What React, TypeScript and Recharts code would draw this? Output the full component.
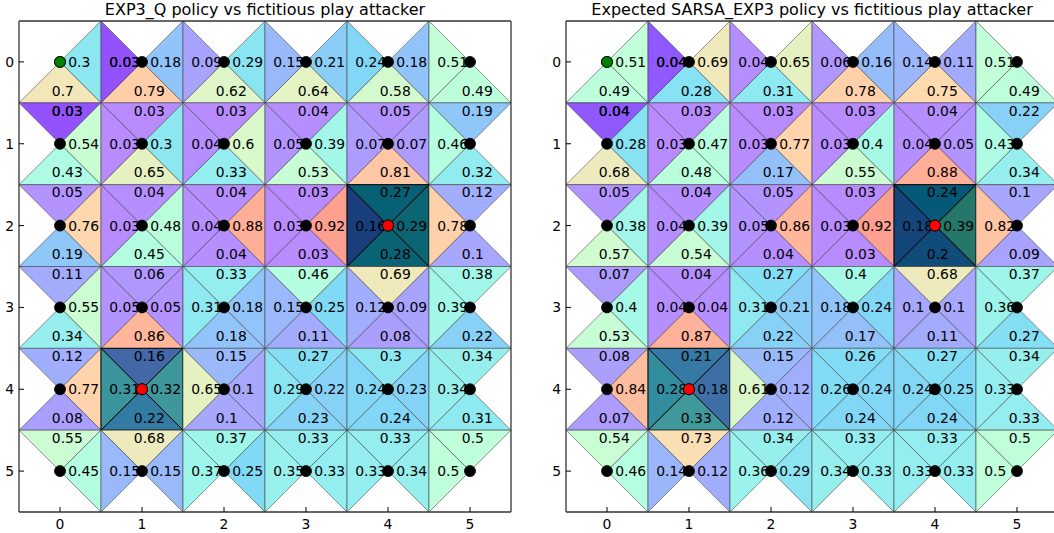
import React from 'react';
import { ScatterChart, Scatter, XAxis, YAxis, ReferenceArea } from 'recharts';

const TICKS = [0, 1, 2, 3, 4, 5];
const COLS = [0, 1, 2, 3, 4, 5];
const ROWS = [0, 1, 2, 3, 4, 5];

const TITLES = [
  'EXP3_Q policy vs fictitious play attacker',
  'Expected SARSA_EXP3 policy vs fictitious play attacker',
];

// action probabilities, row = y (0 at top), col = x ; null where the move leaves the grid
const EXP3_UP = [
  [null, null, null, null, null, null],
  [0.03, 0.03, 0.03, 0.04, 0.05, 0.19],
  [0.05, 0.04, 0.04, 0.03, 0.27, 0.12],
  [0.11, 0.06, 0.33, 0.46, 0.69, 0.38],
  [0.12, 0.16, 0.15, 0.27, 0.3, 0.34],
  [0.55, 0.68, 0.37, 0.33, 0.33, 0.5],
];
const EXP3_RIGHT = [
  [0.3, 0.18, 0.29, 0.21, 0.18, null],
  [0.54, 0.3, 0.6, 0.39, 0.07, null],
  [0.76, 0.48, 0.88, 0.92, 0.29, null],
  [0.55, 0.05, 0.18, 0.25, 0.09, null],
  [0.77, 0.32, 0.1, 0.22, 0.23, null],
  [0.45, 0.15, 0.25, 0.33, 0.34, null],
];
const EXP3_DOWN = [
  [0.7, 0.79, 0.62, 0.64, 0.58, 0.49],
  [0.43, 0.65, 0.33, 0.53, 0.81, 0.32],
  [0.19, 0.45, 0.04, 0.03, 0.28, 0.1],
  [0.34, 0.86, 0.18, 0.11, 0.08, 0.22],
  [0.08, 0.22, 0.1, 0.23, 0.24, 0.31],
  [null, null, null, null, null, null],
];
const EXP3_LEFT = [
  [null, 0.03, 0.09, 0.15, 0.24, 0.51],
  [null, 0.03, 0.04, 0.05, 0.07, 0.46],
  [null, 0.03, 0.04, 0.03, 0.16, 0.78],
  [null, 0.05, 0.31, 0.15, 0.12, 0.39],
  [null, 0.31, 0.65, 0.29, 0.24, 0.34],
  [null, 0.15, 0.37, 0.35, 0.33, 0.5],
];

const SARSA_UP = [
  [null, null, null, null, null, null],
  [0.04, 0.03, 0.03, 0.03, 0.04, 0.22],
  [0.05, 0.04, 0.05, 0.03, 0.24, 0.1],
  [0.07, 0.04, 0.27, 0.4, 0.68, 0.37],
  [0.08, 0.21, 0.15, 0.26, 0.27, 0.34],
  [0.54, 0.73, 0.34, 0.33, 0.33, 0.5],
];
const SARSA_RIGHT = [
  [0.51, 0.69, 0.65, 0.16, 0.11, null],
  [0.28, 0.47, 0.77, 0.4, 0.05, null],
  [0.38, 0.39, 0.86, 0.92, 0.39, null],
  [0.4, 0.04, 0.21, 0.24, 0.1, null],
  [0.84, 0.18, 0.12, 0.24, 0.25, null],
  [0.46, 0.12, 0.29, 0.33, 0.33, null],
];
const SARSA_DOWN = [
  [0.49, 0.28, 0.31, 0.78, 0.75, 0.49],
  [0.68, 0.48, 0.17, 0.55, 0.88, 0.34],
  [0.57, 0.54, 0.04, 0.03, 0.2, 0.09],
  [0.53, 0.87, 0.22, 0.17, 0.11, 0.27],
  [0.07, 0.33, 0.12, 0.24, 0.24, 0.33],
  [null, null, null, null, null, null],
];
const SARSA_LEFT = [
  [null, 0.04, 0.04, 0.06, 0.14, 0.51],
  [null, 0.03, 0.03, 0.03, 0.04, 0.43],
  [null, 0.04, 0.05, 0.03, 0.18, 0.82],
  [null, 0.04, 0.31, 0.18, 0.1, 0.36],
  [null, 0.28, 0.61, 0.26, 0.24, 0.33],
  [null, 0.14, 0.36, 0.34, 0.33, 0.5],
];

const START = [{ x: 0, y: 0 }];
const GOALS = [{ x: 4, y: 2 }, { x: 1, y: 4 }];
// triangles that were drawn twice in the original figure
const DOUBLED = [{ x: 1, y: 0, dir: 'left' }, { x: 0, y: 1, dir: 'up' }];

// how strongly the goal cells are overdrawn / darkened
const GOAL_STYLE = [{ layers: 6, shade: 0.5 }, { layers: 2, shade: 0.33 }];

const FONT = '"DejaVu Sans", sans-serif';

const rainbow = (v: number) => [
  Math.min(1, Math.abs(2 * v - 0.5)),
  Math.sin(Math.PI * v),
  Math.cos((Math.PI * v) / 2),
];

const colorFor = (v: number, layers: number, shade: number) => {
  const a = 1 - Math.pow(0.5, layers);
  const c = rainbow(v).map((f) => Math.round(255 * ((1 - a) + a * f) * (1 - shade)));
  return `rgb(${c[0]},${c[1]},${c[2]})`;
};

const CellPatch = (props: any) => {
  const { x, y, width, height, vals, goalIdx, doubled } = props;
  const w = width;
  const h = height;
  const cx = x + w / 2;
  const cy = y + h / 2;
  const st = goalIdx >= 0 ? GOAL_STYLE[goalIdx] : { layers: 1, shade: 0 };
  const edge = goalIdx >= 0 ? '#000' : 'rgba(60,60,60,0.55)';
  const tris: any[] = [
    { dir: 'up', v: vals.up, pts: [[x, y], [x + w, y], [cx, cy]], tx: cx - 0.1 * w, ty: cy - 0.405 * h },
    { dir: 'right', v: vals.right, pts: [[x + w, y], [x + w, y + h], [cx, cy]], tx: cx + 0.1 * w, ty: cy },
    { dir: 'down', v: vals.down, pts: [[x, y + h], [x + w, y + h], [cx, cy]], tx: cx - 0.1 * w, ty: cy + 0.35 * h },
    { dir: 'left', v: vals.left, pts: [[x, y], [x, y + h], [cx, cy]], tx: cx - 0.4 * w, ty: cy },
  ];
  return (
    <g>
      {tris.map((t) =>
        t.v == null ? null : (
          <polygon
            key={t.dir}
            points={t.pts.map((p: number[]) => p.join(',')).join(' ')}
            fill={colorFor(t.v, st.layers + (doubled.includes(t.dir) ? 1 : 0), st.shade)}
            stroke={edge}
            strokeWidth={1}
          />
        )
      )}
      {tris.map((t) =>
        t.v == null ? null : (
          <g key={'t' + t.dir}>
            {(doubled.includes(t.dir) ? [0, 1] : [0]).map((k) => (
              <text
                key={k}
                x={t.tx}
                y={t.ty}
                dominantBaseline="central"
                fontSize={13.9}
                fontFamily={FONT}
                fill="#000"
              >
                {String(t.v)}
              </text>
            ))}
          </g>
        )
      )}
    </g>
  );
};

const Dot = (fill: string) => (p: any) => (
  <circle cx={p.cx} cy={p.cy} r={5.5} fill={fill} stroke="#000" strokeWidth={0.8} />
);

const CENTERS = ROWS.flatMap((y) => COLS.map((x) => ({ x, y })));

interface PanelProps {
  title: string;
  up: (number | null)[][];
  right: (number | null)[][];
  down: (number | null)[][];
  left: (number | null)[][];
  yAxisWidth: number;
  rightWidth: number;
}

const Panel = ({ title, up, right, down, left, yAxisWidth, rightWidth }: PanelProps) => {
  const plotW = 492;
  const width = yAxisWidth + plotW + rightWidth;
  const tickStyle = { fill: '#000', fontSize: 13.9, fontFamily: FONT };
  const axisLine = { stroke: '#333', strokeWidth: 1.3 };
  const tickLine = { stroke: '#000', strokeWidth: 1 };
  return (
    <div style={{ position: 'relative', width, height: 533 }}>
      <div
        style={{
          position: 'absolute',
          left: yAxisWidth,
          width: plotW,
          top: 0,
          textAlign: 'center',
          fontSize: 16,
          lineHeight: '20px',
          fontFamily: FONT,
          color: '#000',
          whiteSpace: 'nowrap',
        }}
      >
        {title}
      </div>
      <ScatterChart width={width} height={533} margin={{ top: 0, right: 0, bottom: 0, left: 0 }}>
        <XAxis
          xAxisId="b"
          type="number"
          dataKey="x"
          domain={[-0.5, 5.5]}
          ticks={TICKS}
          allowDataOverflow
          height={21}
          tickSize={-5}
          tickMargin={12}
          tick={tickStyle}
          axisLine={axisLine}
          tickLine={tickLine}
        />
        <XAxis
          xAxisId="t"
          orientation="top"
          type="number"
          dataKey="x"
          domain={[-0.5, 5.5]}
          ticks={TICKS}
          allowDataOverflow
          height={21}
          tickSize={-5}
          tick={false}
          axisLine={axisLine}
          tickLine={tickLine}
        />
        <YAxis
          yAxisId="l"
          type="number"
          dataKey="y"
          domain={[-0.5, 5.5]}
          ticks={TICKS}
          allowDataOverflow
          reversed
          width={yAxisWidth}
          tickSize={-5}
          tickMargin={10}
          tick={tickStyle}
          axisLine={axisLine}
          tickLine={tickLine}
        />
        <YAxis
          yAxisId="r"
          orientation="right"
          type="number"
          dataKey="y"
          domain={[-0.5, 5.5]}
          ticks={TICKS}
          allowDataOverflow
          reversed
          width={rightWidth}
          tickSize={-5}
          tick={false}
          axisLine={axisLine}
          tickLine={tickLine}
        />
        {CENTERS.map((c) => {
          const goalIdx = GOALS.findIndex((g) => g.x === c.x && g.y === c.y);
          const doubled = DOUBLED.filter((d) => d.x === c.x && d.y === c.y).map((d) => d.dir);
          const vals = {
            up: up[c.y][c.x],
            right: right[c.y][c.x],
            down: down[c.y][c.x],
            left: left[c.y][c.x],
          };
          return (
            <ReferenceArea
              key={`cell-${c.x}-${c.y}`}
              xAxisId="b"
              yAxisId="l"
              x1={c.x - 0.5}
              x2={c.x + 0.5}
              y1={c.y - 0.5}
              y2={c.y + 0.5}
              ifOverflow="visible"
              shape={(p: any) => <CellPatch {...p} vals={vals} goalIdx={goalIdx} doubled={doubled} />}
            />
          );
        })}
        <Scatter xAxisId="b" yAxisId="l" data={CENTERS} shape={Dot('#000')} isAnimationActive={false} />
        <Scatter xAxisId="b" yAxisId="l" data={START} shape={Dot('#008000')} isAnimationActive={false} />
        <Scatter xAxisId="b" yAxisId="l" data={GOALS} shape={Dot('#ff0000')} isAnimationActive={false} />
      </ScatterChart>
    </div>
  );
};

export default function App() {
  return (
    <div
      style={{
        position: 'fixed',
        left: 0,
        top: 0,
        width: 1054,
        height: 533,
        overflow: 'hidden',
        background: '#fff',
      }}
    >
      <div style={{ position: 'absolute', left: 0, top: 0 }}>
        <Panel title={TITLES[0]} up={EXP3_UP} right={EXP3_RIGHT} down={EXP3_DOWN} left={EXP3_LEFT} yAxisWidth={19} rightWidth={29} />
      </div>
      <div style={{ position: 'absolute', left: 540, top: 0 }}>
        <Panel title={TITLES[1]} up={SARSA_UP} right={SARSA_RIGHT} down={SARSA_DOWN} left={SARSA_LEFT} yAxisWidth={26} rightWidth={22} />
      </div>
    </div>
  );
}
